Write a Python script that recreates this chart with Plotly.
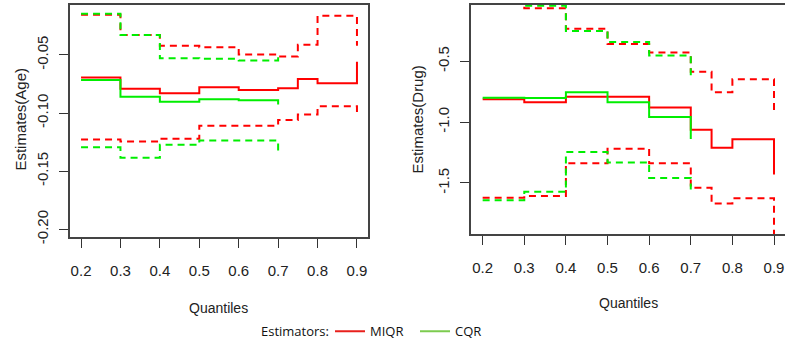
import plotly.graph_objects as go

# ---------------- data ----------------
q_miqr = [0.2, 0.3, 0.4, 0.5, 0.6, 0.7, 0.75, 0.8, 0.9]
q_cqr = [0.2, 0.3, 0.4, 0.5, 0.6, 0.7]

# Age panel
age_miqr = [-0.0694, -0.0792, -0.0829, -0.0778, -0.0801, -0.0787, -0.0708, -0.0744, -0.0559]
age_miqr_up = [-0.0154, -0.0329, -0.0422, -0.0435, -0.0497, -0.0514, -0.0413, -0.0163, -0.0422]
age_miqr_lo = [-0.1227, -0.1244, -0.1222, -0.1109, -0.1109, -0.1059, -0.1012, -0.0941, -0.1022]
age_cqr = [-0.0717, -0.0860, -0.0902, -0.0882, -0.0890, -0.0927]
age_cqr_up = [-0.0146, -0.0329, -0.0528, -0.0534, -0.0548, -0.0490]
age_cqr_lo = [-0.1295, -0.1385, -0.1273, -0.1236, -0.1236, -0.1349]

# Drug panel
drug_miqr = [-0.812, -0.837, -0.791, -0.791, -0.880, -1.062, -1.210, -1.140, -1.430]
drug_miqr_up = [0.0, -0.064, -0.233, -0.359, -0.429, -0.587, -0.754, -0.647, -0.923]
drug_miqr_lo = [-1.621, -1.607, -1.339, -1.218, -1.339, -1.540, -1.669, -1.626, -2.0]
drug_cqr = [-0.800, -0.802, -0.754, -0.837, -0.957, -1.138]
drug_cqr_up = [0.0, -0.045, -0.252, -0.341, -0.453, -0.647]
drug_cqr_lo = [-1.642, -1.573, -1.245, -1.331, -1.460, -1.553]

x_ticks = [0.2, 0.3, 0.4, 0.5, 0.6, 0.7, 0.8, 0.9]
x_ticktext = ["0.2", "0.3", "0.4", "0.5", "0.6", "0.7", "0.8", "0.9"]
age_yticks = [-0.20, -0.15, -0.10, -0.05]
age_yticktext = ["-0.20", "-0.15", "-0.10", "-0.05"]
drug_yticks = [-1.5, -1.0, -0.5]
drug_yticktext = ["-1.5", "-1.0", "-0.5"]

RED = "#ff0000"
GREEN = "#00ee00"
DASH = "7px,5px"
W = 2

W_PX, H_PX = 785, 349
REG = "Liberation Sans, Arial, sans-serif"
LEG = "Open Sans, sans-serif"

fig = go.Figure()


def add_panel(xa, ya, qm, m, mu, ml, qc, c, cu, cl):
    for y, dash in ((m, "solid"), (mu, DASH), (ml, DASH)):
        fig.add_trace(go.Scatter(x=qm, y=y, mode="lines", line=dict(color=RED, width=W, dash=dash, shape="hv"),
                                 xaxis=xa, yaxis=ya, showlegend=False, hoverinfo="skip"))
    for y, dash in ((c, "solid"), (cu, DASH), (cl, DASH)):
        fig.add_trace(go.Scatter(x=qc, y=y, mode="lines", line=dict(color=GREEN, width=W, dash=dash, shape="hv"),
                                 xaxis=xa, yaxis=ya, showlegend=False, hoverinfo="skip"))


add_panel("x", "y", q_miqr, age_miqr, age_miqr_up, age_miqr_lo, q_cqr, age_cqr, age_cqr_up, age_cqr_lo)
add_panel("x2", "y2", q_miqr, drug_miqr, drug_miqr_up, drug_miqr_lo, q_cqr, drug_cqr, drug_cqr_up, drug_cqr_lo)

# legend entries
fig.add_trace(go.Scatter(x=[None], y=[None], mode="lines", name="MIQR", line=dict(color="#e8201c", width=2)))
fig.add_trace(go.Scatter(x=[None], y=[None], mode="lines", name="CQR", line=dict(color="#7ccb4f", width=2)))

axis_common = dict(showgrid=False, zeroline=False, showline=True, linecolor="#444444", linewidth=1.5,
                   ticks="outside", ticklen=9, tickcolor="#333333", tickwidth=1)
xfont = dict(family=REG, size=15, color="#222222")
yfont = dict(family=REG, size=15, color="#222222")

fig.update_layout(
    width=W_PX, height=H_PX, margin=dict(l=0, r=0, t=0, b=0),
    paper_bgcolor="white", plot_bgcolor="white",
    xaxis=dict(domain=[70 / W_PX, 368 / W_PX], range=[0.172, 0.928], tickvals=x_ticks, ticktext=x_ticktext,
               mirror=True, anchor="y", tickfont=xfont, ticklabelstandoff=10, **axis_common),
    yaxis=dict(domain=[1 - 242 / H_PX, 1 - 5 / H_PX], range=[-0.20674, -0.00702], tickvals=age_yticks,
               ticktext=age_yticktext, tickangle=-90, mirror=True, anchor="x",
               tickfont=yfont, ticklabelstandoff=5, **axis_common),
    xaxis2=dict(domain=[471 / W_PX, 1.0], range=[0.172, 0.9264], tickvals=x_ticks, ticktext=x_ticktext,
                mirror=True, anchor="y2", tickfont=xfont, ticklabelstandoff=10,
                ticklabeloverflow="allow", **axis_common),
    yaxis2=dict(domain=[1 - 239 / H_PX, 1 - 5 / H_PX], range=[-1.921, -0.037], tickvals=drug_yticks,
                ticktext=drug_yticktext, tickangle=-90, mirror=False, anchor="x2",
                tickfont=yfont, ticklabelstandoff=5, **axis_common),
    legend=dict(orientation="h", x=330 / W_PX, xanchor="left", y=1 - 338 / H_PX, yanchor="middle",
                font=dict(family=LEG, size=13, color="#111111"),
                bgcolor="rgba(0,0,0,0)", itemwidth=30, entrywidth=40, entrywidthmode="pixels"),
    annotations=[
        dict(text="Estimators:", x=331 / W_PX, y=1 - 338 / H_PX, xref="paper", yref="paper", showarrow=False,
             font=dict(family=LEG, size=13, color="#111111"), xanchor="right", yanchor="middle"),
        dict(text="Quantiles", x=218 / W_PX, y=1 - 314 / H_PX, xref="paper", yref="paper", showarrow=False,
             font=dict(family=REG, size=14, color="#222222"), xanchor="center", yanchor="middle"),
        dict(text="Quantiles", x=628 / W_PX, y=1 - 309 / H_PX, xref="paper", yref="paper", showarrow=False,
             font=dict(family=REG, size=14, color="#222222"), xanchor="center", yanchor="middle"),
        dict(text="Estimates(Age)", x=21 / W_PX, y=1 - 122 / H_PX, xref="paper", yref="paper", showarrow=False,
             textangle=-90, font=dict(family=REG, size=15, color="#222222"), xanchor="center", yanchor="middle"),
        dict(text="Estimates(Drug)", x=418 / W_PX, y=1 - 122 / H_PX, xref="paper", yref="paper", showarrow=False,
             textangle=-90, font=dict(family=REG, size=15, color="#222222"), xanchor="center", yanchor="middle"),
    ],
)

fig.write_html("out.html")
